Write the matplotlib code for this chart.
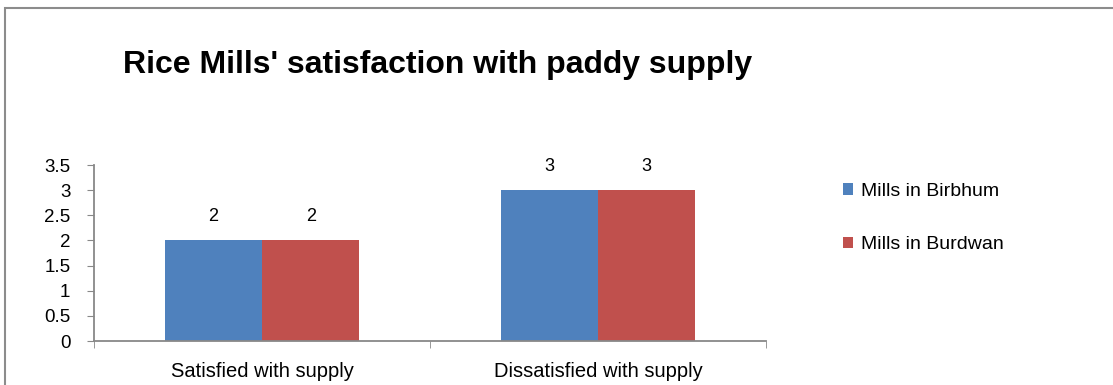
import numpy as np
import matplotlib.pyplot as plt
from matplotlib.patches import Rectangle

categories = ['Satisfied with supply', 'Dissatisfied with supply']
birbhum = [2, 3]
burdwan = [2, 3]
series_names = ['Mills in Birbhum', 'Mills in Burdwan']
yticks = [0, 0.5, 1, 1.5, 2, 2.5, 3, 3.5]

plt.rcParams['font.family'] = ['Liberation Sans', 'DejaVu Sans']

fig = plt.figure(figsize=(11.13, 3.85), dpi=100)

# outer chart border (cropped at right/bottom)
fig.patches.append(Rectangle((5 / 1113, -0.2), 1.2, (385 - 8) / 385 + 0.2,
                             transform=fig.transFigure, fill=False,
                             edgecolor='#8c8c8c', linewidth=1.5))

ax = fig.add_axes([94 / 1113, 44 / 385, (766 - 94) / 1113, (341 - 165) / 385])

x = np.arange(len(categories))
w = 0.29
b1 = ax.bar(x - w / 2, birbhum, w, color='#4F81BD', label=series_names[0])
b2 = ax.bar(x + w / 2, burdwan, w, color='#C0504D', label=series_names[1])

for bars in (b1, b2):
    for r in bars:
        ax.text(r.get_x() + r.get_width() / 2, r.get_height() + 0.3,
                '%g' % r.get_height(), ha='center', va='bottom', fontsize=13)

ax.set_xlim(-0.5, 1.5)
ax.set_ylim(0, 3.5)
ax.set_yticks(yticks)
ax.set_yticklabels(['%g' % t for t in yticks], fontsize=13.5)
ax.set_xticks(x)
ax.set_xticklabels(categories, fontsize=14.5)
ax.set_xticks([-0.5, 0.5, 1.5], minor=True)
ax.tick_params(axis='x', which='major', length=0, pad=15)
ax.tick_params(axis='x', which='minor', length=5, color='#888888', direction='out')
ax.tick_params(axis='y', length=5, color='#888888', direction='out', pad=12)

for s in ['top', 'right']:
    ax.spines[s].set_visible(False)
for s in ['left', 'bottom']:
    ax.spines[s].set_color('#888888')
    ax.spines[s].set_linewidth(1.3)

fig.text(123 / 1113, 1 - 65 / 385, "Rice Mills' satisfaction with paddy supply",
         fontsize=23, fontweight='bold', va='center', ha='left')

fig.legend(handles=[b1, b2], loc='center left', bbox_to_anchor=(825 / 1113, 1 - 218 / 385),
           frameon=False, fontsize=14, handlelength=0.55, handleheight=0.55,
           handletextpad=0.4, labelspacing=1.9)

fig.savefig('out.png', dpi=100)
